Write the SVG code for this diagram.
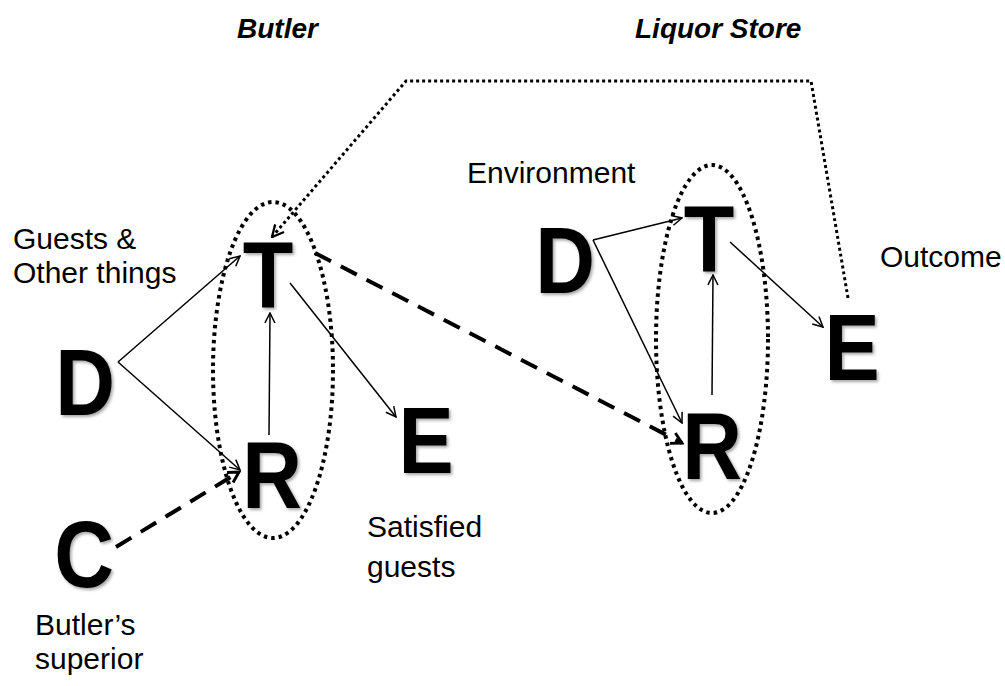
<svg xmlns="http://www.w3.org/2000/svg" width="1005" height="686" viewBox="0 0 1005 686">
  <style>
    .letter { font-family: "Liberation Sans", Arial, sans-serif; font-weight: bold; font-size: 94px; fill: #000; text-anchor: middle; filter: url(#shadow); }
    .label { font-family: "Liberation Sans", Arial, sans-serif; font-size: 30px; fill: #000; }
    .title { font-family: "Liberation Sans", Arial, sans-serif; font-size: 28px; font-weight: bold; font-style: italic; fill: #000; }
    .thin { fill: none; stroke: #000; stroke-width: 1.5; marker-end: url(#open); }
    .dash { fill: none; stroke: #000; stroke-width: 4; stroke-dasharray: 18 11; marker-end: url(#openBold); }
    .group { fill: none; stroke: #000; stroke-width: 4; stroke-dasharray: 3.5 4; }
    .link { fill: none; stroke: #000; stroke-width: 3; stroke-dasharray: 3 3; marker-end: url(#openDot); }
  </style>
  <defs>
    <filter id="shadow" x="-20%" y="-20%" width="150%" height="150%">
      <feDropShadow dx="2" dy="2" stdDeviation="1.6" flood-color="#000" flood-opacity="0.35"/>
    </filter>
    <marker id="open" viewBox="0 0 12 12" refX="11" refY="6" markerWidth="12" markerHeight="12" markerUnits="userSpaceOnUse" orient="auto">
      <path d="M1,1 L11,6 L1,11" fill="none" stroke="#000" stroke-width="1.5"/>
    </marker>
    <marker id="openBold" viewBox="0 0 12 12" refX="10" refY="6" markerWidth="14" markerHeight="14" markerUnits="userSpaceOnUse" orient="auto">
      <path d="M1,1 L10,6 L1,11" fill="none" stroke="#000" stroke-width="2.5"/>
    </marker>
    <marker id="openDot" viewBox="0 0 12 12" refX="11" refY="6" markerWidth="14" markerHeight="14" markerUnits="userSpaceOnUse" orient="auto">
      <path d="M1,1 L11,6 L1,11" fill="none" stroke="#000" stroke-width="2"/>
    </marker>
  </defs>

  <rect width="1005" height="686" fill="#fff"/>

  <!-- section titles -->
  <text class="title" x="237" y="38">Butler</text>
  <text class="title" x="635" y="38">Liquor Store</text>

  <!-- dotted grouping ellipses around T and R -->
  <g id="groups">
    <ellipse class="group" cx="273" cy="370" rx="60" ry="168"/>
    <ellipse class="group" cx="712" cy="339" rx="56" ry="174"/>
  </g>

  <!-- connectors -->
  <g id="connectors">
    <line class="thin" x1="118" y1="362" x2="240" y2="256"/>
    <line class="thin" x1="118" y1="362" x2="240" y2="470"/>
    <line class="thin" x1="269" y1="435" x2="270" y2="313"/>
    <line class="thin" x1="290" y1="283" x2="396" y2="417"/>
    <line class="dash" x1="116" y1="547" x2="239" y2="472"/>
    <line class="dash" x1="315" y1="253" x2="682" y2="443"/>
    <line class="thin" x1="593" y1="240" x2="682" y2="218"/>
    <line class="thin" x1="593" y1="240" x2="682" y2="423"/>
    <line class="thin" x1="712" y1="395" x2="713" y2="275"/>
    <line class="thin" x1="730" y1="242" x2="823" y2="327"/>
    <polyline class="link" points="848,298 811,81 406,81 272,237"/>
  </g>

  <!-- Butler nodes -->
  <g id="butler-D">
    <text class="letter" transform="translate(85 415) scale(0.88 1)">D</text>
    <text class="label" x="13" y="249">Guests &amp;</text>
    <text class="label" x="13" y="283">Other things</text>
  </g>
  <g id="butler-T"><text class="letter" transform="translate(268 308) scale(0.88 1)">T</text></g>
  <g id="butler-R"><text class="letter" transform="translate(272 508) scale(0.88 1)">R</text></g>
  <g id="butler-C">
    <text class="letter" transform="translate(84 587) scale(0.88 1)">C</text>
    <text class="label" x="35" y="635">Butler’s</text>
    <text class="label" x="35" y="669">superior</text>
  </g>
  <g id="butler-E">
    <text class="letter" transform="translate(426 473) scale(0.88 1)">E</text>
    <text class="label" x="367" y="537">Satisfied</text>
    <text class="label" x="367" y="577">guests</text>
  </g>

  <!-- Liquor store nodes -->
  <g id="store-D">
    <text class="letter" transform="translate(565 293) scale(0.88 1)">D</text>
    <text class="label" x="467" y="183">Environment</text>
  </g>
  <g id="store-T"><text class="letter" transform="translate(709 272) scale(0.88 1)">T</text></g>
  <g id="store-R"><text class="letter" transform="translate(712 479) scale(0.88 1)">R</text></g>
  <g id="store-E">
    <text class="letter" transform="translate(852 380) scale(0.88 1)">E</text>
    <text class="label" x="880" y="267">Outcome</text>
  </g>
</svg>
